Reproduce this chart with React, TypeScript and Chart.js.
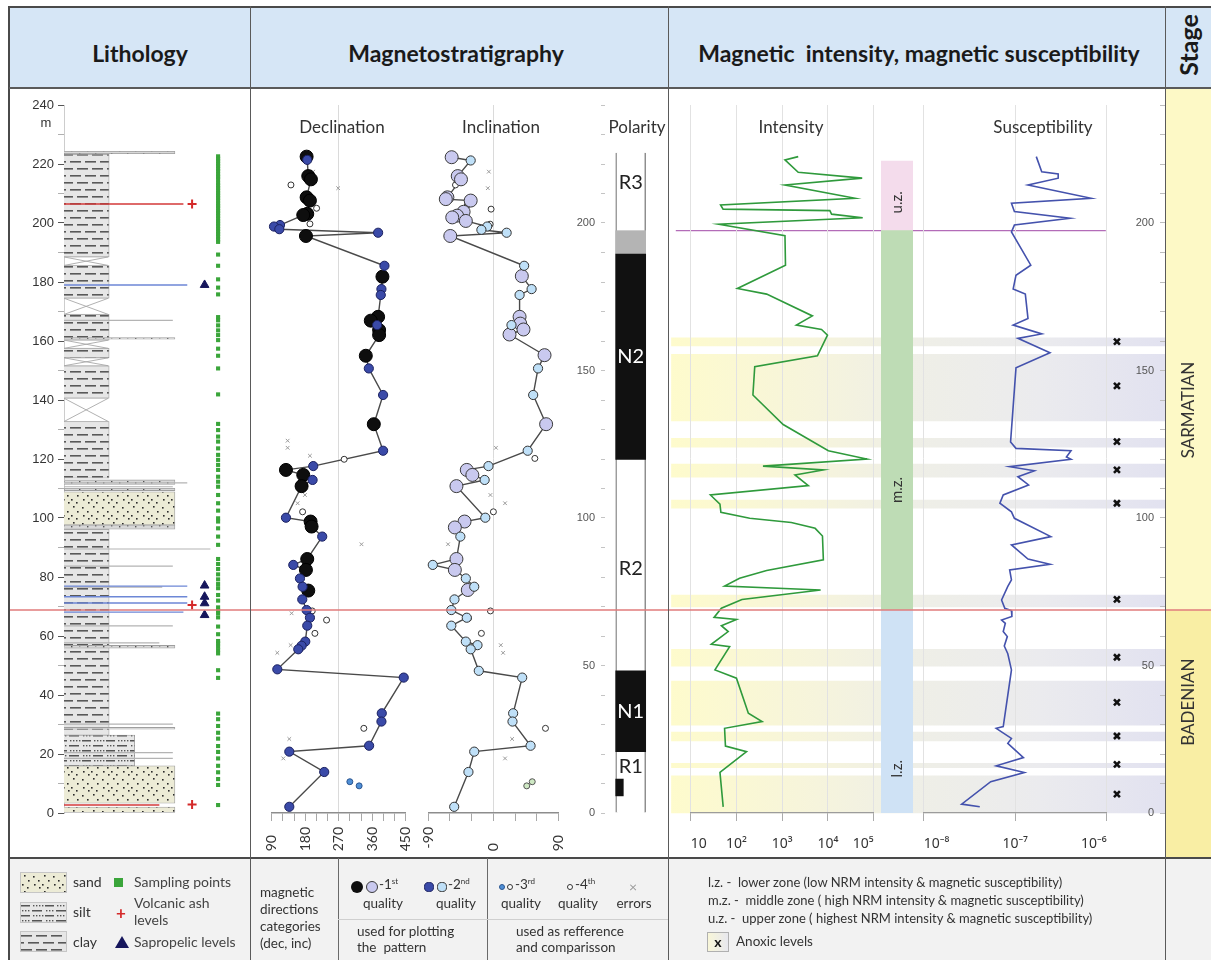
import React, { useEffect, useRef } from 'react';
import { Chart, registerables } from 'chart.js';

Chart.register(...registerables);

const SANS = 'Lato, "Noto Sans", "DejaVu Sans", sans-serif';
const AXIS_FONT = '"Liberation Sans", Arial, sans-serif';
const SUP_FONT = '"Noto Sans", "DejaVu Sans", sans-serif';
Chart.defaults.font.family = SANS;
Chart.defaults.color = '#333';

// ---------------- layout constants ----------------
const BODY_TOP = 88;
const BODY_H = 770;
const PAD_TOP = 17;
const PAD_BOTTOM = 45;
const DEPTH_MIN = 0;
const DEPTH_MAX = 240;
const M_PER_PX = (DEPTH_MAX - DEPTH_MIN) / (BODY_H - PAD_TOP - PAD_BOTTOM);
const FULL_MIN = DEPTH_MIN - PAD_BOTTOM * M_PER_PX;
const FULL_MAX = DEPTH_MAX + PAD_TOP * M_PER_PX;

// ---------------- data: lithology ----------------
// [bottom m, top m, lithology]
const LITH_LAYERS: [number, number, string][] = [
  [0.0, 2.0, 'sand'],
  [3.3, 16.0, 'sand'],
  [16.0, 26.4, 'silt'],
  [26.4, 96.2, 'clay'],
  [28.4, 29.0, 'bed'],
  [55.9, 56.8, 'bed'],
  [96.2, 97.6, 'bed'],
  [97.6, 108.9, 'sand'],
  [109.3, 110.1, 'bed'],
  [111.4, 112.9, 'bed'],
  [113.5, 132.7, 'clay'],
  [140.6, 151.6, 'clay'],
  [154.3, 157.5, 'clay'],
  [160.3, 169.0, 'clay'],
  [160.6, 161.2, 'bed'],
  [174.5, 185.6, 'clay'],
  [188.5, 223.3, 'clay'],
  [223.5, 224.3, 'bed'],
];
// covered intervals (no outcrop)
const LITH_GAPS: [number, number][] = [
  [132.7, 140.6], [151.6, 154.3], [157.5, 160.3], [169.0, 174.5], [185.6, 188.5],
];
// [depth, lateral extent]
const LAMINAE: [number, number][] = [
  [167.0, 113], [111.9, 128], [110.6, 113], [89.5, 152], [83.7, 113], [76.6, 102],
  [63.4, 113], [57.7, 99], [30.1, 113], [20.5, 113], [18.5, 113],
];
const SAPROPEL_LINES: [number, number][] = [[179.0, 128], [76.9, 128], [73.3, 128], [71.2, 128], [68.1, 124]];
const ASH_LINES: [number, number][] = [[206.4, 124], [2.7, 99]];
const ASH_LEVELS = [206.4, 70.5, 2.9];
const SAPROPEL_LEVELS = [179.0, 77.1, 73.3, 71.1, 67.1];
const SAMPLE_DEPTHS = [
  222.6, 221.8, 221.0, 220.1, 219.3, 218.4, 217.6, 216.5, 215.7, 214.8, 213.6, 212.7, 211.9, 211.0,
  210.1, 209.3, 208.5, 207.6, 206.6, 205.8, 205.0, 204.1, 203.3, 202.4, 201.5, 200.6, 199.8, 198.9,
  198.0, 197.1, 196.3, 195.4, 194.4, 193.6, 189.3, 185.5, 180.9, 178.1, 175.8, 168.1, 167.0, 165.3,
  163.6, 162.0, 160.3, 157.4, 155.0, 150.7, 141.9, 131.9, 129.8, 127.6, 125.9, 123.6, 121.4, 119.7,
  118.0, 116.3, 114.0, 112.3, 110.6, 107.8, 105.0, 102.5, 99.9, 98.8, 96.5, 93.7, 90.9, 86.1, 84.4,
  82.7, 80.9, 79.2, 77.6, 76.2, 73.9, 72.0, 69.7, 68.6, 67.7, 66.3, 63.2, 60.6, 58.3, 57.5, 56.4,
  55.2, 54.1, 48.4, 45.8, 33.7, 31.8, 29.5, 27.2, 25.2, 22.7, 20.7, 18.5, 16.0, 13.8, 11.5, 9.5, 2.7,
];

// ---------------- data: magnetostratigraphy ----------------
// [depth m, declination deg]
const DEC_Q1: [number, number][] = [
  [222.5, 183.8], [215.9, 188.2], [214.8, 195.4], [208.7, 183.8], [207.6, 192.7], [203.1, 185.5],
  [202.7, 174.8], [195.6, 182.0], [181.8, 387.5], [168.2, 375.9], [166.9, 356.2], [163.7, 378.6],
  [162.0, 378.6], [155.0, 342.8], [131.8, 364.3], [116.3, 128.3], [114.6, 174.8], [110.8, 170.3],
  [98.8, 194.5], [97.1, 197.2], [86.1, 185.5], [82.4, 182.0], [75.4, 188.2],
];
const DEC_Q2: [number, number][] = [
  [221.4, 185.5], [199.3, 112.3], [198.8, 96.2], [197.9, 110.5], [196.7, 375.9], [185.5, 392.9],
  [177.6, 384.8], [175.6, 383.0], [165.4, 373.2], [150.7, 350.9], [141.7, 389.3], [122.8, 389.3],
  [117.6, 201.6], [112.9, 199.8], [100.1, 128.3], [93.7, 225.7], [84.1, 148.0], [79.5, 165.9],
  [76.7, 173.0], [72.4, 172.1], [68.8, 183.8], [66.2, 192.7], [63.5, 185.5], [58.1, 180.2],
  [56.7, 170.3], [55.5, 161.4], [48.7, 105.1], [45.9, 444.7], [33.8, 385.7], [31.0, 384.8],
  [22.8, 351.7], [20.8, 137.3], [13.9, 231.1], [2.1, 137.3],
];
const DEC_Q3: [number, number][] = [[10.6, 299.9], [9.2, 324.9]];
const DEC_Q4: [number, number][] = [
  [212.9, 141.7], [205.0, 210.6], [199.7, 192.7], [119.9, 284.7], [102.1, 173.0], [68.5, 198.9],
  [65.4, 237.4], [60.9, 206.1], [28.7, 337.5],
];
const DEC_ERR: [number, number][] = [
  [217.4, 201.6], [211.8, 268.6], [126.2, 132.8], [123.8, 132.8], [121.1, 192.7], [107.8, 179.3],
  [105.0, 159.6], [91.1, 331.2], [67.7, 143.5], [56.9, 140.9], [54.3, 105.1], [25.1, 137.3], [18.5, 121.2],
];
// [depth m, inclination deg]
const INC_Q1: [number, number][] = [
  [222.3, -57.7], [215.9, -49.3], [214.8, -44.8], [208.7, -63.6], [208.1, -65.8], [207.6, -31.4],
  [203.8, -41.2], [202.5, -50.2], [201.9, -56.9], [200.7, -38.1], [195.6, -59.6], [182.0, 39.3],
  [168.2, 36.2], [165.9, 37.1], [163.9, 41.6], [162.2, 22.3], [155.2, 70.7], [131.8, 72.9],
  [116.3, -36.8], [114.6, -29.1], [110.8, -51.1], [98.8, -39.9], [96.8, -53.3], [86.1, -51.1],
  [82.4, -53.3], [75.6, -35.4],
];
const INC_Q2: [number, number][] = [
  [221.2, -31.4], [198.8, -8.6], [197.7, -16.6], [196.7, 18.3], [185.5, 42.5], [177.6, 52.8],
  [175.6, 36.2], [165.4, 25.0], [150.7, 61.7], [141.7, 55.0], [122.8, 47.4], [117.6, -6.8],
  [112.9, -12.1], [100.1, -11.2], [93.7, -45.7], [84.1, -83.8], [79.5, -38.1], [76.7, -26.5],
  [72.4, -53.8], [68.8, -58.2], [66.2, -36.8], [63.5, -58.2], [58.1, -38.1], [56.9, -22.0],
  [55.5, -31.4], [48.2, -20.2], [45.9, 39.8], [33.8, 27.3], [31.0, 26.4], [22.8, 51.4],
  [20.8, -26.5], [13.9, -34.5], [2.1, -54.2],
];
const INC_Q3: [number, number][] = [[10.6, 53.7], [9.2, 46.1]];
const INC_Q4: [number, number][] = [
  [212.9, -52.4], [206.1, -35.9], [204.7, -3.2], [199.6, -4.5], [120.2, 57.3], [102.1, 0],
  [68.5, -4.1], [66.0, -34.5], [60.9, -16.6], [28.7, 72.0],
];
const INC_ERR: [number, number][] = [
  [217.4, -6.3], [211.8, -7.7], [123.8, 3.5], [107.8, -4.1], [105.0, 16.1], [91.1, -62.7],
  [56.9, 10.2], [54.3, 13.4], [25.1, 25.9], [18.5, 16.1],
];
const DEC_TICKS = [90, 120, 150, 180, 210, 240, 270, 300, 330, 360, 390, 420, 450];
const DEC_TICK_LABELS: Record<string, string> = { 90: '90\u2007', 180: '180', 270: '270', 360: '360', 450: '450' };
const INC_TICKS = [-90, -60, -30, 0, 30, 60, 90];
const INC_TICK_LABELS: Record<string, string> = { '-90': '-90', 0: '0\u2007\u2007', 90: '90\u2007' };

// polarity column
const POLARITY_COLUMN: [number, number] = [0, 223.8];
const POLARITY_NORMAL: [number, number][] = [[119.9, 189.5], [20.8, 48.2]];
const POLARITY_TRANSITION: [number, number][] = [[189.5, 197.4]];
const POLARITY_EVENT: [number, number][] = [[5.8, 11.5]];
const POLARITY_LABELS: [string, number][] = [['R3', 213.6], ['N2', 154.7], ['R2', 83.0], ['N1', 34.5], ['R1', 15.6]];

// ---------------- data: magnetic intensity / susceptibility ----------------
const INTENSITY: [number, number][] = [
  [222.5, 2240], [221.4, 1150], [217.2, 2240], [215.2, 56000], [212.9, 1150], [208.4, 39000],
  [206.1, 45], [204.7, 51], [204.2, 11000], [203.0, 12000], [201.8, 57500], [199.6, 41],
  [195.7, 1150], [185.7, 1180], [177.8, 105], [175.9, 457], [168.5, 4570], [165.4, 2040],
  [163.9, 7240], [162.0, 9770], [155.0, 5890], [151.3, 251], [141.7, 229], [131.7, 1050],
  [122.8, 10200], [120.0, 70800], [117.6, 380], [116.3, 7940], [114.6, 1900], [111.0, 3720],
  [107.8, 27], [104.7, 43.6], [101.9, 45.7], [99.9, 195], [98.5, 1580], [96.5, 5250], [93.9, 7590],
  [85.8, 7940], [82.2, 457], [79.6, 117], [76.9, 55], [75.6, 6920], [72.4, 132], [69.4, 46.8],
  [66.3, 32.4], [65.6, 100], [63.5, 46.8], [61.5, 66], [57.2, 28.2], [56.4, 71], [48.5, 33.9],
  [45.7, 100], [33.8, 182], [31.0, 363], [28.7, 55], [22.7, 57.5], [20.8, 166], [13.8, 43.6], [2.1, 51.3],
];
const SUSCEPTIBILITY: [number, number][] = [
  [222.5, 1.7e-7], [217.4, 1.95e-7], [216.6, 2.95e-7], [215.2, 2.95e-7], [212.9, 1.38e-7],
  [208.4, 6.76e-7], [206.7, 9.1e-8], [203.9, 9.8e-8], [201.6, 3.98e-7], [199.3, 9.8e-8],
  [197.0, 9.1e-8], [185.7, 1.48e-7], [182.3, 1.02e-7], [177.6, 9.5e-8], [175.9, 1.29e-7],
  [167.6, 1.38e-7], [165.4, 9.5e-8], [162.4, 1.95e-7], [160.9, 1.07e-7], [156.0, 2.4e-7],
  [150.9, 1.02e-7], [125.8, 8.9e-8], [123.6, 1.02e-7], [122.8, 4.07e-7], [120.7, 3.63e-7],
  [119.9, 4.07e-7], [117.4, 8.7e-8], [116.0, 1.62e-7], [114.0, 1.07e-7], [111.2, 1.4e-7],
  [107.8, 7.4e-8], [105.0, 6.8e-8], [102.1, 9.1e-8], [99.9, 9.8e-8], [93.7, 2.45e-7], [90.9, 9.1e-8],
  [86.1, 1.38e-7], [84.3, 2.4e-7], [82.4, 8.7e-8], [79.0, 9.1e-8], [76.8, 8.3e-8], [72.2, 7.1e-8],
  [69.4, 7.7e-8], [68.6, 9.1e-8], [66.6, 9.2e-8], [65.4, 7.1e-8], [64.3, 7.8e-8], [61.5, 7.4e-8],
  [59.8, 8.2e-8], [56.6, 7.6e-8], [54.0, 8.3e-8], [48.5, 9.1e-8], [29.3, 7.4e-8], [28.7, 6.2e-8],
  [25.3, 9.1e-8], [23.6, 8.3e-8], [18.8, 1.23e-7], [16.0, 6.2e-8], [13.7, 1.26e-7], [10.6, 5.4e-8],
  [3.0, 2.6e-8], [2.1, 4.1e-8],
];
const INT_TICKS = [10, 100, 1000, 10000, 100000];
const INT_TICK_LABELS = ['10', '10²', '10³', '10⁴', '10⁵'];
const SUS_TICKS = [1e-8, 1e-7, 1e-6];
const SUS_TICK_LABELS = ['10⁻⁸', '10⁻⁷', '10⁻⁶'];
const ANOXIC_BANDS: [number, number][] = [
  [158.3, 161.1], [132.9, 155.5], [124.0, 127.0], [113.8, 118.3], [103.3, 106.1], [69.9, 73.9],
  [49.8, 55.5], [29.8, 44.7], [24.4, 27.4], [15.4, 16.8], [0, 12.6],
];
const ANOXIC_LEVELS = [159.8, 144.8, 125.9, 116.3, 105.0, 72.4, 52.8, 37.5, 26.1, 16.5, 6.4];
const ZONES: [string, number, number][] = [['l.z.', 0, 68.8], ['m.z.', 68.8, 197.4], ['u.z.', 197.4, 221.0]];
const ZONE_LABEL_DEPTH = [15, 109.5, 207];
const ZONE_BOUNDARY = 197.4;
const STAGE_BOUNDARY = 68.8;
const STAGE_NAMES = ['SARMATIAN', 'BADENIAN'];
const STAGE_LABEL_DEPTH = [136.6, 37.6];

// ---------------- helpers ----------------
function makePattern(kind: string): any {
  const c = document.createElement('canvas');
  const g = c.getContext('2d');
  if (!g) return '#e6e6e6';
  if (kind === 'clay') {
    c.width = 30; c.height = 14;
    g.fillStyle = '#e6e6e6'; g.fillRect(0, 0, 30, 14);
    g.fillStyle = '#595959';
    [[0, 3, 11], [15, 3, 11], [7, 10, 11], [22, 10, 8], [0, 10, 3]].forEach(([x, y, l]) => g.fillRect(x, y, l, 1.6));
  } else if (kind === 'silt') {
    c.width = 24; c.height = 10;
    g.fillStyle = '#e7e7e7'; g.fillRect(0, 0, 24, 10);
    g.fillStyle = '#555';
    g.fillRect(0, 2, 9, 1.5);
    [12, 15, 18, 21].forEach((x) => g.fillRect(x, 2, 1.4, 1.4));
    g.fillRect(11, 7, 10, 1.5);
    [1, 4, 7].forEach((x) => g.fillRect(x, 7, 1.4, 1.4));
  } else if (kind === 'sand') {
    c.width = 20; c.height = 16;
    g.fillStyle = '#ecebd6'; g.fillRect(0, 0, 20, 16);
    g.fillStyle = '#2a2a2a';
    [[3, 2], [12, 3], [17, 7], [7, 7], [1, 11], [13, 11], [6, 14], [18, 14]].forEach(([x, y]) => g.fillRect(x, y, 1.6, 1.6));
  } else {
    c.width = 16; c.height = 4;
    g.fillStyle = '#d8d8d8'; g.fillRect(0, 0, 16, 4);
    g.fillStyle = '#555'; g.fillRect(5, 1, 1.4, 1.4); g.fillRect(13, 2, 1.4, 1.4);
  }
  return g.createPattern(c, 'repeat') || '#e6e6e6';
}

const NOPLUG = { legend: { display: false }, tooltip: { enabled: false } };
const BRK = { x: NaN, y: NaN };
const pts = (rows: [number, number][]) => rows.map(([d, v]) => ({ x: v, y: d }));
const hiddenDepth = { type: 'linear', min: DEPTH_MIN, max: DEPTH_MAX, display: false };

function fixX(h: number) {
  return (s: any) => { s.height = h; s.paddingLeft = 0; s.paddingRight = 0; };
}

function textLabels(
  id: string, items: () => [string, number][], font: string, colorOf: (t: string) => string,
  rotate: boolean, centerX?: (chart: any) => number,
) {
  return {
    id,
    afterDatasetsDraw(chart: any) {
      const { ctx, chartArea, scales } = chart;
      ctx.save();
      ctx.font = font;
      ctx.textAlign = 'center';
      ctx.textBaseline = 'middle';
      const cx = centerX ? centerX(chart) : (chartArea.left + chartArea.right) / 2;
      items().forEach(([t, d]) => {
        ctx.save();
        ctx.fillStyle = colorOf(t);
        ctx.translate(cx, scales.y.getPixelForValue(d));
        if (rotate) ctx.rotate(-Math.PI / 2);
        ctx.fillText(t, 0, 0);
        ctx.restore();
      });
      ctx.restore();
    },
  };
}

const depthTicks = (step: number, every: number, size: number, color: string, padding: number) => ({
  stepSize: step, autoSkip: false, padding, color,
  font: { family: AXIS_FONT, size },
  callback: (v: number) => (v % every === 0 ? String(v) : ''),
});

// ---------------- chart builders ----------------
const LITH_W = 176; // chart-area width in px (x unit = px)
const GRAIN_WIDTH: Record<string, number> = { clay: 46, silt: 72, sand: 113, bed: 113 };
const ASH_X = 133, SAPRO_X = 146, SAMPLE_X = 160;

function buildLithology() {
  const pats: Record<string, any> = { clay: makePattern('clay'), silt: makePattern('silt'), sand: makePattern('sand'), bed: makePattern('bed') };
  const layerSet = (kind: string, order: number) => ({
    type: 'bar',
    data: LITH_LAYERS.filter((l) => l[2] === kind).map(([b, t]) => ({ x: GRAIN_WIDTH[kind] / 2, y: [b, t] })),
    backgroundColor: pats[kind], borderColor: '#9e9e9e', borderWidth: 0.8, borderSkipped: false,
    barThickness: GRAIN_WIDTH[kind], grouped: false, order,
  });
  const segs = (rows: [number, number][], color: string, width: number, order: number) => ({
    type: 'line',
    data: rows.flatMap(([d, ext]) => [{ x: 0, y: d }, { x: ext, y: d }, BRK]),
    borderColor: color, borderWidth: width, pointRadius: 0, spanGaps: false, order, clip: false,
  });
  const gapW = GRAIN_WIDTH.clay;
  return {
    type: 'bar',
    data: {
      datasets: [
        layerSet('sand', 20), layerSet('silt', 19), layerSet('clay', 18), layerSet('bed', 17),
        {
          type: 'line',
          data: LITH_GAPS.flatMap(([b, t]) => [{ x: 0, y: t }, { x: gapW, y: b }, BRK, { x: 0, y: b }, { x: gapW, y: t }, BRK]),
          borderColor: '#a8a8a8', borderWidth: 0.9, pointRadius: 0, spanGaps: false, order: 16,
        },
        {
          type: 'line',
          data: LITH_GAPS.flatMap(([b, t]) => [{ x: 0, y: t }, { x: gapW, y: t }, BRK, { x: 0, y: b }, { x: gapW, y: b }, BRK]),
          borderColor: '#b5b5b5', borderWidth: 0.8, pointRadius: 0, spanGaps: false, order: 16,
        },
        segs(LAMINAE, '#b4b4b4', 1.2, 15),
        segs(SAPROPEL_LINES, '#6d87d6', 1.4, 14),
        segs(ASH_LINES, '#d43a3a', 1.5, 14),
        {
          type: 'scatter', data: SAMPLE_DEPTHS.map((d) => ({ x: SAMPLE_X, y: d })),
          pointStyle: 'rect', pointRadius: 2.9, backgroundColor: '#3aa53a', borderWidth: 0, order: 3, clip: false,
        },
        {
          type: 'scatter', data: SAPROPEL_LEVELS.map((d) => ({ x: SAPRO_X, y: d })),
          pointStyle: 'triangle', pointRadius: 5, backgroundColor: '#16165c', borderColor: '#16165c', borderWidth: 1, order: 2, clip: false,
        },
        {
          type: 'scatter', data: ASH_LEVELS.map((d) => ({ x: ASH_X, y: d })),
          pointStyle: 'cross', pointRadius: 4.5, borderColor: '#d42a2a', borderWidth: 2, order: 1, clip: false,
        },
      ],
    },
    options: {
      responsive: false, animation: false, events: [], devicePixelRatio: 1,
      layout: { padding: { top: PAD_TOP, bottom: PAD_BOTTOM, left: 0, right: 0 } },
      plugins: NOPLUG,
      scales: {
        x: { type: 'linear', min: 0, max: LITH_W, display: false, offset: false },
        y: {
          type: 'linear', min: DEPTH_MIN, max: DEPTH_MAX, position: 'left',
          afterFit: (s: any) => { s.width = 54; },
          ticks: depthTicks(10, 20, 13, '#333', 4),
          grid: {
            drawOnChartArea: false, tickLength: 6,
            color: (c: any) => (c.tick && c.tick.value % 20 === 0 ? '#555' : '#b0b0b0'),
          },
          border: { display: true, color: '#cdcdcd' },
        },
      },
    },
  };
}

function buildDirection(kind: 'dec' | 'inc') {
  const isDec = kind === 'dec';
  const q1 = isDec ? DEC_Q1 : INC_Q1;
  const q2 = isDec ? DEC_Q2 : INC_Q2;
  const q3 = isDec ? DEC_Q3 : INC_Q3;
  const q4 = isDec ? DEC_Q4 : INC_Q4;
  const err = isDec ? DEC_ERR : INC_ERR;
  const line = [...q1, ...q2].sort((a, b) => b[0] - a[0]);
  const ticks = isDec ? DEC_TICKS : INC_TICKS;
  const labels = isDec ? DEC_TICK_LABELS : INC_TICK_LABELS;
  const gridAt = isDec ? 270 : 0;
  return {
    type: 'scatter',
    data: {
      datasets: [
        { data: pts(line), showLine: true, borderColor: '#4a4a4a', borderWidth: 1.4, pointRadius: 0, order: 10, clip: false },
        { data: pts(err), pointStyle: 'crossRot', pointRadius: 2.6, borderColor: '#9a9a9a', borderWidth: 1, order: 6, clip: false },
        { data: pts(q4), pointRadius: 3, backgroundColor: '#ffffff', borderColor: '#333', borderWidth: 1, order: 5, clip: false },
        {
          data: pts(q3), pointRadius: 3,
          backgroundColor: isDec ? '#4f8fd6' : '#cfe9c4', borderColor: isDec ? '#2a5590' : '#555', borderWidth: 1, order: 4, clip: false,
        },
        {
          data: pts(q1), pointRadius: 6.5,
          backgroundColor: isDec ? '#0e0e0e' : '#c9c9ef', borderColor: isDec ? '#000' : '#3a3a3a', borderWidth: 1, order: 3, clip: false,
        },
        {
          data: pts(q2), pointRadius: 4.6,
          backgroundColor: isDec ? '#3a4aa8' : '#bfe0f8', borderColor: isDec ? '#1b2160' : '#333', borderWidth: 1, order: 2, clip: false,
        },
      ],
    },
    options: {
      responsive: false, animation: false, events: [], devicePixelRatio: 1,
      layout: { padding: isDec ? { top: PAD_TOP, left: 20.7, right: 14.3, bottom: 0 } : { top: PAD_TOP, left: 8.3, right: 3.3, bottom: 0 } },
      plugins: NOPLUG,
      scales: {
        x: {
          type: 'linear', min: ticks[0], max: ticks[ticks.length - 1],
          afterFit: fixX(PAD_BOTTOM),
          afterBuildTicks: (s: any) => { s.ticks = ticks.map((v) => ({ value: v })); },
          ticks: {
            autoSkip: false, minRotation: 90, maxRotation: 90, padding: 6, color: '#333',
            font: { size: 14 },
            callback: (v: number) => labels[String(v)] || '',
          },
          grid: {
            color: (c: any) => (c.tick && c.tick.value === gridAt ? '#dadada' : 'rgba(0,0,0,0)'),
            tickColor: '#a8a8a8', tickLength: 8, lineWidth: 1,
          },
          border: { color: '#8d8d8d', width: 1.5 },
        },
        y: hiddenDepth,
      },
    },
  };
}

const POL_AREA_W = 42;
const POL_COL_CENTER = 25.7, POL_COL_WIDTH = 30;
const POL_EVENT_CENTER = 14.5, POL_EVENT_WIDTH = 7.6;

function buildPolarity() {
  const bars = (rows: [number, number][], color: string, center: number, width: number, order: number) => ({
    data: rows.map(([b, t]) => ({ x: center, y: [b, t] })),
    backgroundColor: color, borderWidth: 0, barThickness: width, grouped: false, order,
  });
  return {
    type: 'bar',
    data: {
      datasets: [
        {
          data: [{ x: POL_COL_CENTER, y: POLARITY_COLUMN }],
          backgroundColor: '#ffffff', borderColor: '#8e8e8e',
          borderWidth: { left: 1.5, right: 1.5, top: 0, bottom: 0 }, borderSkipped: false,
          barThickness: POL_COL_WIDTH, grouped: false, order: 5,
        },
        bars(POLARITY_TRANSITION, '#b4b4b4', POL_COL_CENTER, POL_COL_WIDTH, 4),
        bars(POLARITY_NORMAL, '#111111', POL_COL_CENTER, POL_COL_WIDTH, 3),
        bars(POLARITY_EVENT, '#111111', POL_EVENT_CENTER, POL_EVENT_WIDTH, 2),
      ],
    },
    options: {
      responsive: false, animation: false, events: [], devicePixelRatio: 1,
      layout: { padding: { top: PAD_TOP, bottom: PAD_BOTTOM, left: 0, right: 20 } },
      plugins: NOPLUG,
      scales: {
        x: { type: 'linear', min: 0, max: POL_AREA_W, display: false, offset: false },
        y: {
          type: 'linear', min: DEPTH_MIN, max: DEPTH_MAX, position: 'left',
          afterFit: (s: any) => { s.width = 39; },
          ticks: depthTicks(10, 50, 11, '#555', 6),
          grid: { drawOnChartArea: false, tickLength: 4, color: '#c4c4c4' },
          border: { display: false },
        },
      },
    },
    plugins: [
      textLabels('polLabels', () => POLARITY_LABELS, `20px ${SANS}`, (t) => (t[0] === 'N' ? '#ffffff' : '#222'), false,
        (chart) => chart.scales.x.getPixelForValue(POL_COL_CENTER)),
    ],
  };
}

const MAG_W = 496; // background canvas width
const MAG_AREA_W = 491;
const BAND_CENTER = 247, BAND_WIDTH = 494;
const ANOXIC_X = 449;
const ZONE_LINE_END = 437.7;

function bandGradient(c: any) {
  const ctx = c.chart.ctx;
  const g = ctx.createLinearGradient(0, 0, BAND_WIDTH, 0);
  g.addColorStop(0, '#fefbcc');
  g.addColorStop(0.3, '#f6f4dc');
  g.addColorStop(0.48, '#efefe6');
  g.addColorStop(0.75, '#ebebee');
  g.addColorStop(1, '#e2e2f0');
  return g;
}

function buildMagneticBackground() {
  return {
    type: 'bar',
    data: {
      datasets: [
        {
          data: ANOXIC_BANDS.map(([b, t]) => ({ x: BAND_CENTER, y: [b, t] })),
          backgroundColor: bandGradient, borderWidth: 0, barThickness: BAND_WIDTH, grouped: false, order: 10, clip: false,
        },
        {
          type: 'line', data: [{ x: 0, y: ZONE_BOUNDARY }, { x: ZONE_LINE_END, y: ZONE_BOUNDARY }],
          borderColor: '#b36cb8', borderWidth: 1.4, pointRadius: 0, order: 2, clip: false,
        },
        {
          type: 'scatter', data: ANOXIC_LEVELS.map((d) => ({ x: ANOXIC_X, y: d })),
          pointStyle: 'crossRot', pointRadius: 4.2, borderColor: '#111', borderWidth: 2.6, order: 1, clip: false,
        },
      ],
    },
    options: {
      responsive: false, animation: false, events: [], devicePixelRatio: 1,
      layout: { padding: { top: PAD_TOP, bottom: PAD_BOTTOM, left: 0, right: MAG_W - MAG_AREA_W } },
      plugins: NOPLUG,
      scales: {
        x: { type: 'linear', min: 0, max: MAG_AREA_W, display: false, offset: false },
        y: hiddenDepth,
      },
    },
  };
}

function buildRightDepthAxis() {
  return {
    type: 'scatter',
    data: { datasets: [] },
    options: {
      responsive: false, animation: false, events: [], devicePixelRatio: 1,
      layout: { padding: { top: PAD_TOP, bottom: PAD_BOTTOM, left: 0, right: 0 } },
      plugins: NOPLUG,
      scales: {
        x: { type: 'linear', min: 0, max: 1, display: false },
        y: {
          type: 'linear', min: DEPTH_MIN, max: DEPTH_MAX, position: 'left',
          afterFit: (s: any) => { s.width = 50; },
          ticks: depthTicks(10, 50, 11, '#555', 6),
          grid: { drawOnChartArea: false, tickLength: 5, color: '#bdbdbd' },
          border: { display: false },
        },
      },
    },
  };
}

function buildZones() {
  return {
    type: 'bar',
    data: {
      labels: ['zone'],
      datasets: ZONES.map(([name, b, t]) => ({
        data: [[b, t]],
        backgroundColor: name === 'l.z.' ? '#cfe2f5' : name === 'm.z.' ? '#bedcb5' : '#f4dcec',
        borderWidth: 0, barPercentage: 1, categoryPercentage: 1, grouped: false,
      })),
    },
    options: {
      responsive: false, animation: false, events: [], devicePixelRatio: 1,
      layout: { padding: { top: PAD_TOP, bottom: PAD_BOTTOM, left: 0, right: 0 } },
      plugins: NOPLUG,
      scales: { x: { display: false }, y: hiddenDepth },
    },
    plugins: [
      textLabels('zoneLabels', () => ZONES.map(([n], i) => [n, ZONE_LABEL_DEPTH[i]] as [string, number]), `15px ${SANS}`, () => '#333', true),
    ],
  };
}

function buildLog(kind: 'int' | 'sus') {
  const isInt = kind === 'int';
  const rows = isInt ? INTENSITY : SUSCEPTIBILITY;
  const ticks = isInt ? INT_TICKS : SUS_TICKS;
  const labels = isInt ? INT_TICK_LABELS : SUS_TICK_LABELS;
  return {
    type: 'scatter',
    data: {
      datasets: [{
        data: pts(rows), showLine: true, borderColor: isInt ? '#2f9a3c' : '#4452ad',
        borderWidth: 1.6, pointRadius: 0, clip: false,
      }],
    },
    options: {
      responsive: false, animation: false, events: [], devicePixelRatio: 1,
      layout: { padding: isInt ? { top: PAD_TOP, left: 21.7, right: 4.3, bottom: 0 } : { top: PAD_TOP, left: 8.7, right: 8.3, bottom: 0 } },
      plugins: NOPLUG,
      scales: {
        x: {
          type: 'logarithmic', min: ticks[0], max: ticks[ticks.length - 1],
          afterFit: fixX(PAD_BOTTOM),
          afterBuildTicks: (s: any) => { s.ticks = ticks.map((v) => ({ value: v })); },
          ticks: {
            autoSkip: false, maxRotation: 0, align: 'inner', padding: 15, color: '#333',
            font: { family: SUP_FONT, size: 14 },
            callback: (_v: number, i: number) => labels[i],
          },
          grid: { color: '#e2e2e2', tickColor: '#ababab', tickLength: 8 },
          border: { color: '#9c9c9c', width: 1.2 },
        },
        y: hiddenDepth,
      },
    },
  };
}

function buildStage() {
  return {
    type: 'bar',
    data: {
      labels: ['stage'],
      datasets: [
        { data: [[STAGE_BOUNDARY, FULL_MAX]], backgroundColor: '#fdf9c6', borderWidth: 0, barPercentage: 1, categoryPercentage: 1, grouped: false },
        { data: [[FULL_MIN, STAGE_BOUNDARY]], backgroundColor: '#f9eea4', borderWidth: 0, barPercentage: 1, categoryPercentage: 1, grouped: false },
      ],
    },
    options: {
      responsive: false, animation: false, events: [], devicePixelRatio: 1,
      layout: { padding: 0 },
      plugins: NOPLUG,
      scales: { x: { display: false }, y: { type: 'linear', min: FULL_MIN, max: FULL_MAX, display: false } },
    },
    plugins: [
      textLabels('stageLabels', () => STAGE_NAMES.map((n, i) => [n, STAGE_LABEL_DEPTH[i]] as [string, number]), `17px ${SANS}`, () => '#333', true),
    ],
  };
}

function buildBoundary() {
  return {
    type: 'scatter',
    data: {
      datasets: [{
        data: [{ x: 0, y: STAGE_BOUNDARY }, { x: 1, y: STAGE_BOUNDARY }],
        showLine: true, borderColor: '#e17b7b', borderWidth: 1.5, pointRadius: 0,
      }],
    },
    options: {
      responsive: false, animation: false, events: [], devicePixelRatio: 1,
      layout: { padding: 0 },
      plugins: NOPLUG,
      scales: {
        x: { type: 'linear', min: 0, max: 1, display: false },
        y: { type: 'linear', min: FULL_MIN, max: FULL_MAX, display: false },
      },
    },
  };
}

// ---------------- components ----------------
function ChartCanvas({ x, w, build, z = 1 }: { x: number; w: number; build: () => any; z?: number }) {
  const ref = useRef<HTMLCanvasElement | null>(null);
  useEffect(() => {
    if (!ref.current) return;
    const chart = new Chart(ref.current, build());
    return () => chart.destroy();
  }, []);
  return (
    <canvas
      ref={ref}
      width={w}
      height={BODY_H}
      style={{ position: 'absolute', left: x, top: BODY_TOP, width: w, height: BODY_H, zIndex: z, pointerEvents: 'none' }}
    />
  );
}

function Swatch({ kind, x, y }: { kind: string; x: number; y: number }) {
  const ref = useRef<HTMLCanvasElement | null>(null);
  useEffect(() => {
    const c = ref.current;
    if (!c) return;
    const g = c.getContext('2d');
    if (!g) return;
    g.fillStyle = makePattern(kind);
    g.fillRect(0, 0, 45, 19);
  }, []);
  return <canvas ref={ref} width={45} height={19} style={{ position: 'absolute', left: x, top: y, width: 45, height: 19, outline: '1px solid #c6c6c6' }} />;
}

function Txt({ x, y, children, size = 14, weight = 400, color = '#333', anchor = 'middle', rotate = 0, family = SANS }: any) {
  const tx = anchor === 'start' ? '0' : '-50%';
  return (
    <div
      style={{
        position: 'absolute', left: x, top: y, transform: `translate(${tx}, -50%) rotate(${rotate}deg)`,
        whiteSpace: 'nowrap', fontSize: size, fontWeight: weight, color, lineHeight: 1.15, fontFamily: family, zIndex: 5,
      }}
    >
      {children}
    </div>
  );
}

function Line({ x, y, w, h, c = '#4a4a4a' }: any) {
  return <div style={{ position: 'absolute', left: x, top: y, width: w, height: h, background: c, zIndex: 6 }} />;
}

function Dot({ x, y, r, bg, border = 'none' }: any) {
  return (
    <div style={{ position: 'absolute', left: x - r, top: y - r, width: 2 * r, height: 2 * r, borderRadius: '50%', background: bg, border, boxSizing: 'border-box', zIndex: 5 }} />
  );
}

export default function App() {
  return (
    <div style={{ position: 'absolute', left: 0, top: 0, width: 1211, height: 960, background: '#fff', overflow: 'hidden', fontFamily: SANS }}>
      {/* header and legend backgrounds */}
      <div style={{ position: 'absolute', left: 9, top: 7, width: 1202, height: 81, background: '#d6e6f6' }} />
      <div style={{ position: 'absolute', left: 9, top: 858, width: 1202, height: 102, background: '#f2f2f2' }} />

      {/* charts */}
      <ChartCanvas x={10} w={230} build={buildLithology} />
      <ChartCanvas x={251} w={169} build={() => buildDirection('dec')} />
      <ChartCanvas x={420} w={146} build={() => buildDirection('inc')} />
      <ChartCanvas x={566} w={101} build={buildPolarity} />
      <ChartCanvas x={669} w={MAG_W} build={buildMagneticBackground} />
      <ChartCanvas x={1115} w={51} build={buildRightDepthAxis} z={2} />
      <ChartCanvas x={881} w={32} build={buildZones} z={2} />
      <ChartCanvas x={669} w={209} build={() => buildLog('int')} z={3} />
      <ChartCanvas x={915} w={200} build={() => buildLog('sus')} z={3} />
      <ChartCanvas x={1166} w={45} build={buildStage} />
      <ChartCanvas x={9} w={1202} build={buildBoundary} z={4} />

      {/* frame lines */}
      <Line x={9} y={6} w={1202} h={2} />
      <Line x={8} y={6} w={2} h={954} />
      <Line x={9} y={87} w={1202} h={1.5} c="#5a5a5a" />
      <Line x={9} y={857} w={1202} h={2} />
      <Line x={249.5} y={6} w={1.5} h={954} c="#5a5a5a" />
      <Line x={667.5} y={6} w={1.5} h={954} c="#5a5a5a" />
      <Line x={1164.5} y={6} w={1.5} h={954} c="#5a5a5a" />
      <Line x={337.5} y={858} w={1.2} h={102} c="#6a6a6a" />
      <Line x={486.5} y={858} w={1.2} h={102} c="#6a6a6a" />
      <Line x={338} y={919} w={330} h={1} c="#cfcfcf" />

      {/* header titles */}
      <Txt x={140} y={53} size={23} weight={700} color="#1a1a1a">Lithology</Txt>
      <Txt x={456} y={53} size={23} weight={700} color="#1a1a1a">Magnetostratigraphy</Txt>
      <Txt x={919} y={53} size={23} weight={700} color="#1a1a1a">Magnetic&nbsp; intensity, magnetic susceptibility</Txt>
      <Txt x={1188} y={45} size={25} weight={700} color="#1a1a1a" rotate={-90}>Stage</Txt>

      {/* panel subtitles */}
      <Txt x={342} y={127} size={17} color="#333">Declination</Txt>
      <Txt x={501} y={127} size={17} color="#333">Inclination</Txt>
      <Txt x={637} y={127} size={17} color="#333">Polarity</Txt>
      <Txt x={791} y={127} size={17} color="#333">Intensity</Txt>
      <Txt x={1043} y={127} size={17} color="#333">Susceptibility</Txt>
      <Txt x={46} y={123} size={13} color="#333" family={AXIS_FONT}>m</Txt>

      {/* legend: lithology */}
      <Swatch kind="sand" x={21} y={873} />
      <Swatch kind="silt" x={21} y={903} />
      <Swatch kind="clay" x={21} y={932} />
      <Txt x={73} y={882} anchor="start">sand</Txt>
      <Txt x={73} y={912} anchor="start">silt</Txt>
      <Txt x={73} y={942} anchor="start">clay</Txt>
      <div style={{ position: 'absolute', left: 114, top: 878, width: 9, height: 9, background: '#3aa53a', zIndex: 5 }} />
      <Txt x={134} y={882} anchor="start" color="#444">Sampling points</Txt>
      <Txt x={121} y={913} size={17} weight={700} color="#d42a2a">+</Txt>
      <Txt x={134} y={903} anchor="start" color="#444">Volcanic ash</Txt>
      <Txt x={134} y={920} anchor="start" color="#444">levels</Txt>
      <div style={{ position: 'absolute', left: 115, top: 936, width: 0, height: 0, borderLeft: '7px solid transparent', borderRight: '7px solid transparent', borderBottom: '12px solid #16165c', zIndex: 5 }} />
      <Txt x={134} y={942} anchor="start" color="#444">Sapropelic levels</Txt>

      {/* legend: magnetic directions */}
      <Txt x={260} y={893} anchor="start" size={13.5}>magnetic</Txt>
      <Txt x={260} y={910} anchor="start" size={13.5}>directions</Txt>
      <Txt x={260} y={927} anchor="start" size={13.5}>categories</Txt>
      <Txt x={260} y={944} anchor="start" size={13.5}>(dec, inc)</Txt>

      <Dot x={357} y={887} r={6} bg="#0e0e0e" />
      <Dot x={372} y={887} r={6} bg="#c9c9ef" border="1px solid #3a3a3a" />
      <Txt x={379} y={885} anchor="start" size={13.5}>-1<sup style={{ fontSize: 8 }}>st</sup></Txt>
      <Txt x={383} y={904} size={13.5}>quality</Txt>
      <Dot x={429} y={887} r={4.6} bg="#3a4aa8" border="1px solid #1b2160" />
      <Dot x={442} y={887} r={4.6} bg="#bfe0f8" border="1px solid #333" />
      <Txt x={448} y={885} anchor="start" size={13.5}>-2<sup style={{ fontSize: 8 }}>nd</sup></Txt>
      <Txt x={456} y={904} size={13.5}>quality</Txt>
      <Txt x={357} y={932} anchor="start" size={13.5}>used for plotting</Txt>
      <Txt x={357} y={948} anchor="start" size={13.5}>the&nbsp; pattern</Txt>

      <Dot x={502} y={887} r={3} bg="#4f8fd6" border="1px solid #2a5590" />
      <Dot x={510} y={887} r={3} bg="#fff" border="1px solid #333" />
      <Txt x={515} y={885} anchor="start" size={13.5}>-3<sup style={{ fontSize: 8 }}>rd</sup></Txt>
      <Txt x={521} y={904} size={13.5}>quality</Txt>
      <Dot x={570} y={887} r={3} bg="#fff" border="1px solid #333" />
      <Txt x={575} y={885} anchor="start" size={13.5}>-4<sup style={{ fontSize: 8 }}>th</sup></Txt>
      <Txt x={578} y={904} size={13.5}>quality</Txt>
      <Txt x={633} y={887} size={14} color="#9a9a9a">×</Txt>
      <Txt x={634} y={904} size={13.5}>errors</Txt>
      <Txt x={516} y={932} anchor="start" size={13.5}>used as refference</Txt>
      <Txt x={516} y={948} anchor="start" size={13.5}>and comparisson</Txt>

      {/* legend: zones */}
      <Txt x={708} y={882} anchor="start" size={13}>l.z. -&nbsp; lower zone (low NRM intensity &amp; magnetic susceptibility)</Txt>
      <Txt x={708} y={900} anchor="start" size={13}>m.z. -&nbsp; middle zone ( high NRM intensity &amp; magnetic susceptibility)</Txt>
      <Txt x={708} y={918} anchor="start" size={13}>u.z. -&nbsp; upper zone ( highest NRM intensity &amp; magnetic susceptibility)</Txt>
      <div style={{ position: 'absolute', left: 707, top: 932, width: 22, height: 20, background: 'linear-gradient(90deg,#f8f6d8,#e8e8ee)', border: '1px solid #b0b0b0', boxSizing: 'border-box', zIndex: 5 }} />
      <Txt x={718} y={942} size={14} weight={700} color="#111">x</Txt>
      <Txt x={736} y={942} anchor="start" size={13.5}>Anoxic levels</Txt>
    </div>
  );
}
